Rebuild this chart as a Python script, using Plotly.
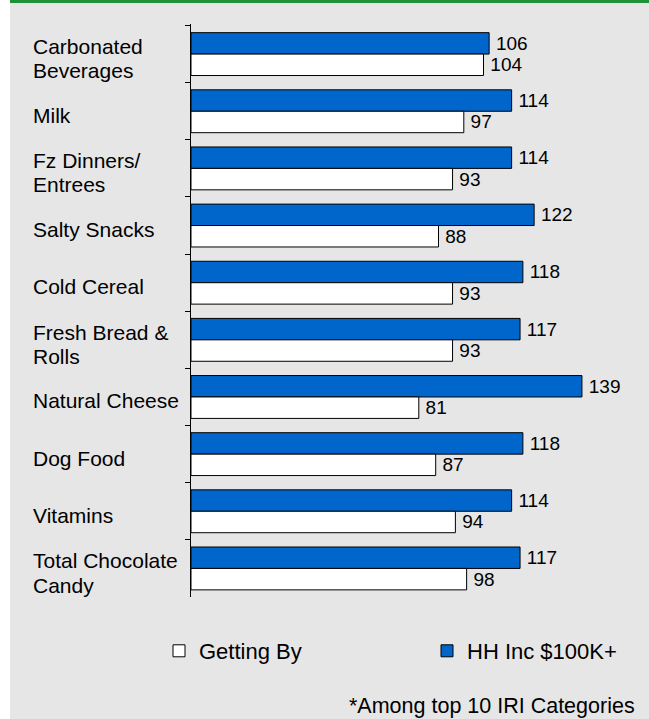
import plotly.graph_objects as go

# Category names (top to bottom) and their wrapped display labels
categories = [
    "Carbonated Beverages", "Milk", "Fz Dinners/ Entrees", "Salty Snacks",
    "Cold Cereal", "Fresh Bread & Rolls", "Natural Cheese", "Dog Food",
    "Vitamins", "Total Chocolate Candy",
]
category_labels = [
    "Carbonated<br>Beverages", "Milk", "Fz Dinners/<br>Entrees", "Salty Snacks",
    "Cold Cereal", "Fresh Bread &<br>Rolls", "Natural Cheese", "Dog Food",
    "Vitamins", "Total Chocolate<br>Candy",
]

# Index values per category
hh_inc_100k = [106, 114, 114, 122, 118, 117, 139, 118, 114, 117]
getting_by = [104, 97, 93, 88, 93, 93, 81, 87, 94, 98]

series_names = ["HH Inc $100K+", "Getting By"]
footnote = "*Among top 10 IRI Categories"

W, H = 649, 719
ML, MR, MT, MB = 191, 8, 24, 122
PW, PH = W - ML - MR, H - MT - MB

FONT = "Liberation Sans, Arial, sans-serif"
BLUE = "#0066cc"
BG = "#e6e6e6"


def px_x(px):
    return (px - ML) / PW


def px_y(py):
    return (H - MB - py) / PH


fig = go.Figure()
for name, vals, fill, leg in [(series_names[0], hh_inc_100k, BLUE, "legend2"),
                              (series_names[1], getting_by, "#ffffff", "legend")]:
    fig.add_trace(go.Bar(
        y=categories, x=vals, orientation="h", name=name, legend=leg,
        marker=dict(color=fill, line=dict(color="#000000", width=1)),
        texttemplate="\u2009%{x}", textposition="outside", constraintext="none",
        textfont=dict(family=FONT, size=19, color="#000000"), cliponaxis=False,
    ))

# Left-aligned category labels, one annotation per text line
annotations = []
for cat, lab in zip(categories, category_labels):
    lines = lab.split("<br>")
    shifts = [-4.0] if len(lines) == 1 else [7.6, -16.6]
    for line, shift in zip(lines, shifts):
        annotations.append(dict(
            x=px_x(31), xref="paper", y=cat, yref="y", yshift=shift,
            text=line, showarrow=False, xanchor="left", yanchor="middle", align="left",
            font=dict(family=FONT, size=21, color="#000000"),
        ))
annotations.append(dict(
    x=px_x(637), xref="paper", y=px_y(706), yref="paper",
    text=footnote, showarrow=False, xanchor="right", yanchor="middle",
    font=dict(family=FONT, size=21.5, color="#000000"),
))

shapes = [
    # white strip at the left edge and green rule across the top
    dict(type="rect", xref="paper", yref="paper", x0=px_x(0), x1=px_x(10),
         y0=px_y(H), y1=px_y(0), fillcolor="#ffffff", line=dict(width=0), layer="below"),
    dict(type="rect", xref="paper", yref="paper", x0=px_x(10), x1=px_x(W),
         y0=px_y(3), y1=px_y(0), fillcolor="#1f9136", line=dict(width=0), layer="below"),
]

legend_style = dict(
    orientation="h", xanchor="left", yanchor="middle", y=px_y(651),
    font=dict(family=FONT, size=22, color="#000000"), bgcolor="rgba(0,0,0,0)",
)

fig.update_layout(
    width=W, height=H,
    margin=dict(l=ML, r=MR, t=MT, b=MB, pad=0),
    paper_bgcolor=BG, plot_bgcolor="rgba(0,0,0,0)",
    barmode="group", bargap=0.25, bargroupgap=0,
    showlegend=True,
    legend=dict(x=px_x(159), **legend_style),
    legend2=dict(x=px_x(427), **legend_style),
    xaxis=dict(range=[0, 160], visible=False, fixedrange=True),
    yaxis=dict(
        autorange="reversed", showticklabels=True, tickson="boundaries",
        tickfont=dict(color="rgba(0,0,0,0)", size=1),
        ticks="outside", ticklen=5, tickcolor="#000000", tickwidth=1,
        showline=True, linecolor="#000000", linewidth=1, showgrid=False, zeroline=False,
    ),
    annotations=annotations, shapes=shapes,
    font=dict(family=FONT),
)

fig.write_html("out.html")
